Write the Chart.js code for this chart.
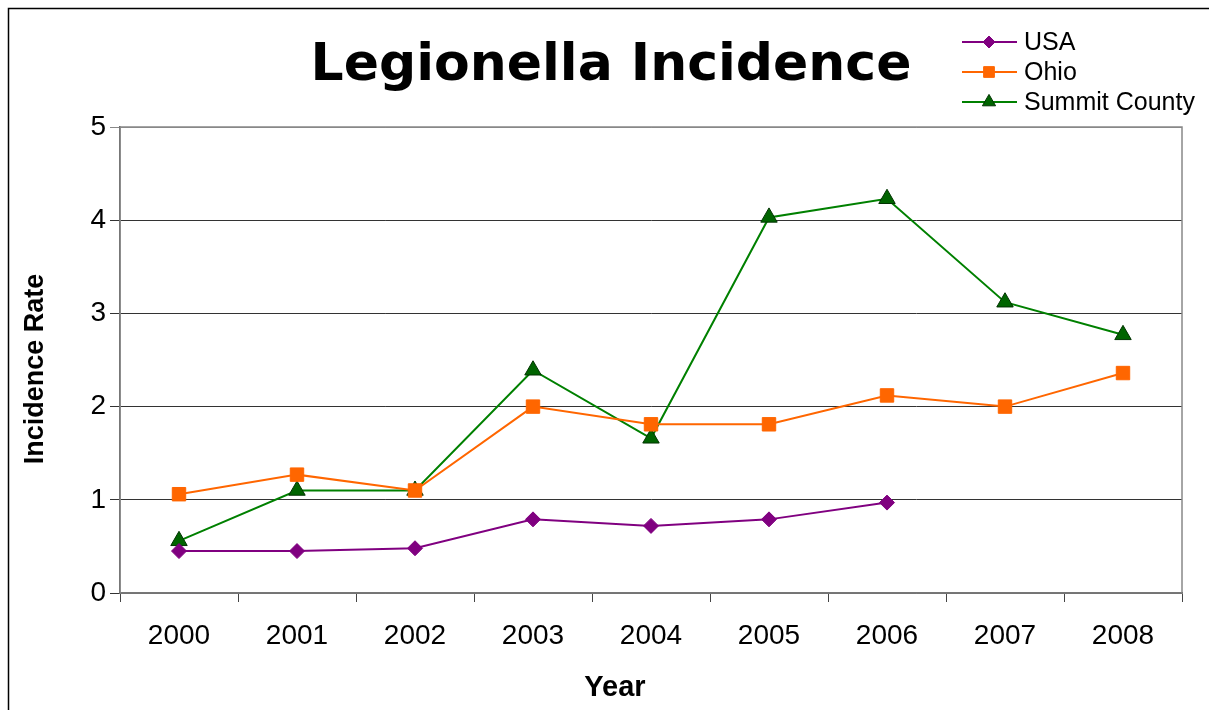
<!DOCTYPE html>
<html>
<head>
    <meta charset="UTF-8">
    <title>Legionella Incidence</title>
    <script src="https://cdn.jsdelivr.net/npm/chart.js"></script>
    <style>
        html, body { margin: 0; padding: 0; background: #fff; }
        #wrap { width: 1209px; height: 710px; }
    </style>
</head>
<body>
<div id="wrap"><canvas id="chart" width="1209" height="710"></canvas></div>
<script>
    // data
    const years = ['2000', '2001', '2002', '2003', '2004', '2005', '2006', '2007', '2008'];
    const usa = [0.45, 0.45, 0.48, 0.79, 0.72, 0.79, 0.97, null, null];
    const ohio = [1.06, 1.27, 1.10, 2.00, 1.81, 1.81, 2.12, 2.00, 2.36];
    const summit = [0.56, 1.10, 1.10, 2.39, 1.66, 4.03, 4.23, 3.12, 2.77];
    const yTicks = [0, 1, 2, 3, 4, 5];

    const series = [
        {label: 'USA', data: usa, color: '#800080', fill: '#800080', style: 'rectRot', r: 7.5},
        {label: 'Ohio', data: ohio, color: '#FF6600', fill: '#FF6600', style: 'rect', r: 9.5},
        {label: 'Summit County', data: summit, color: '#008000', fill: '#006400', style: 'triangle', r: 9.5, border: '#003300'}
    ];

    // title, legend, axis titles, frame and plot border
    const decor = {
        id: 'decor',
        beforeDatasetsDraw(chart) {
            const ctx = chart.ctx, a = chart.chartArea;
            ctx.save();
            ctx.strokeStyle = '#888';
            ctx.lineWidth = 1.5;
            ctx.strokeRect(a.left, a.top, a.right - a.left, a.bottom - a.top);
            ctx.restore();
        },
        afterDraw(chart) {
            const ctx = chart.ctx;
            ctx.save();
            ctx.strokeStyle = '#000';
            ctx.lineWidth = 1.5;
            ctx.beginPath();
            ctx.moveTo(8.5, 720);
            ctx.lineTo(8.5, 8.5);
            ctx.lineTo(1220, 8.5);
            ctx.stroke();

            ctx.fillStyle = '#000';
            ctx.font = 'bold 52px "DejaVu Sans"';
            ctx.textAlign = 'center';
            ctx.textBaseline = 'alphabetic';
            ctx.fillText('Legionella Incidence', 611, 80);

            ctx.font = 'bold 29px "Liberation Sans", Arial';
            ctx.textBaseline = 'middle';
            ctx.fillText('Year', 615, 688);

            ctx.save();
            ctx.translate(36, 369);
            ctx.rotate(-Math.PI / 2);
            ctx.font = 'bold 27px "Liberation Sans", Arial';
            ctx.fillText('Incidence Rate', 0, 0);
            ctx.restore();

            ctx.font = '25px "Liberation Sans", Arial';
            ctx.textAlign = 'left';
            ctx.textBaseline = 'middle';
            series.forEach((s, i) => {
                const y = 42 + i * 30;
                ctx.strokeStyle = s.color;
                ctx.lineWidth = 2;
                ctx.beginPath();
                ctx.moveTo(962, y);
                ctx.lineTo(1017, y);
                ctx.stroke();
                ctx.fillStyle = s.fill;
                ctx.strokeStyle = s.border || s.fill;
                ctx.lineWidth = 1;
                Chart.helpers.drawPoint(ctx, {pointStyle: s.style, radius: s.r * 0.8, borderWidth: 1}, 989, y);
                ctx.fillStyle = '#000';
                ctx.fillText(s.label, 1024, y + 1);
            });
            ctx.restore();
        }
    };

    const config = {
        type: 'line',
        data: {
            labels: years,
            datasets: series.map(s => ({
                label: s.label,
                data: s.data,
                borderColor: s.color,
                borderWidth: 2,
                backgroundColor: s.fill,
                pointBackgroundColor: s.fill,
                pointBorderColor: s.border || s.fill,
                pointBorderWidth: 1,
                pointStyle: s.style,
                pointRadius: s.r,
                tension: 0,
                spanGaps: false
            }))
        },
        options: {
            responsive: false,
            animation: false,
            layout: {padding: {top: 127, right: 27, left: 0, bottom: 0}},
            plugins: {
                legend: {display: false},
                title: {display: false},
                tooltip: {enabled: false}
            },
            scales: {
                x: {
                    offset: true,
                    afterFit(scale) { scale.height = 117; },
                    grid: {
                        offset: true,
                        drawOnChartArea: false,
                        drawTicks: true,
                        tickLength: 9,
                        color: '#444'
                    },
                    border: {color: '#444', width: 1.5},
                    ticks: {
                        color: '#000',
                        padding: 17,
                        font: {family: '"Liberation Sans", Arial', size: 28}
                    }
                },
                y: {
                    min: 0,
                    max: 5,
                    afterFit(scale) { scale.width = 120; },
                    afterBuildTicks(scale) { scale.ticks = yTicks.map(v => ({value: v})); },
                    grid: {
                        color: ctx => ctx.tick && ctx.tick.value === 5 ? '#888' : '#333',
                        lineWidth: 1,
                        drawTicks: true,
                        tickLength: 10
                    },
                    border: {color: '#444', width: 1.5},
                    ticks: {
                        color: '#000',
                        padding: 4,
                        font: {family: '"Liberation Sans", Arial', size: 28}
                    }
                }
            }
        },
        plugins: [decor]
    };

    new Chart(document.getElementById('chart').getContext('2d'), config);
</script>
</body>
</html>
